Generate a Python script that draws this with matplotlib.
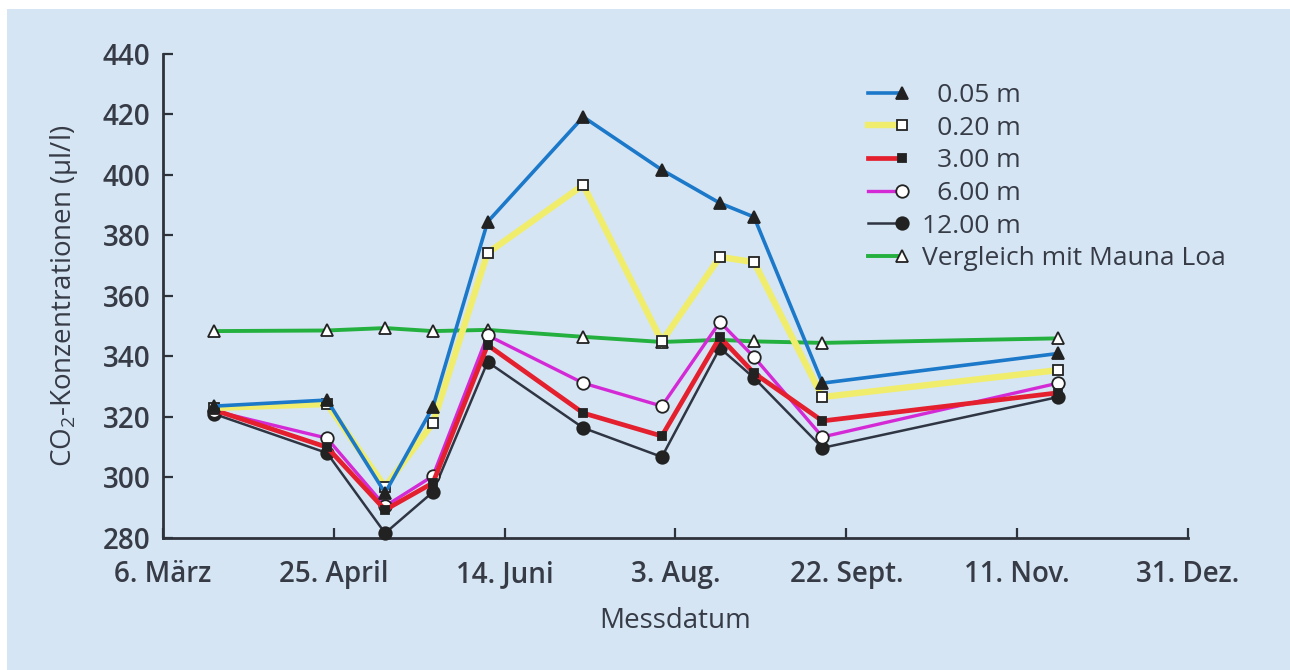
import numpy as np
import pandas as pd
import matplotlib
matplotlib.use("Agg")
import matplotlib.pyplot as plt
import matplotlib.dates as mdates
from matplotlib.patches import Rectangle
from matplotlib.legend_handler import HandlerLine2DCompound

# Measurement dates
dates = pd.to_datetime([
    "1990-03-21", "1990-04-23", "1990-05-10", "1990-05-24", "1990-06-09",
    "1990-07-07", "1990-07-30", "1990-08-16", "1990-08-26", "1990-09-15",
    "1990-11-23",
])

# CO2 concentrations (µl/l) per depth
co2_005 = [323.6, 325.6, 294.9, 323.3, 384.5, 419.2, 401.7, 390.7, 386.1, 331.2, 341.0]
co2_020 = [323.0, 324.3, 296.9, 318.0, 374.2, 396.7, 345.0, 372.9, 371.2, 326.6, 335.5]
co2_300 = [322.3, 310.0, 289.3, 298.2, 343.8, 321.3, 313.7, 346.4, 334.5, 318.7, 328.0]
co2_600 = [322.0, 313.0, 290.5, 300.5, 347.0, 331.2, 323.6, 351.4, 339.8, 313.4, 331.2]
co2_1200 = [321.0, 308.1, 281.6, 295.2, 338.2, 316.4, 306.8, 342.8, 332.9, 309.8, 326.6]
mauna_loa = [348.4, 348.6, 349.4, 348.4, 348.8, 346.5, 344.8, 345.5, 345.0, 344.5, 346.0]

series_labels = ["\u20070.05 m", "\u20070.20 m", "\u20073.00 m", "\u20076.00 m",
                 "12.00 m", "Vergleich mit Mauna Loa"]

tick_dates = pd.to_datetime(["1990-03-06", "1990-04-25", "1990-06-14", "1990-08-03",
                             "1990-09-22", "1990-11-11", "1990-12-31"])
tick_labels = ["6. März", "25. April", "14. Juni", "3. Aug.", "22. Sept.", "11. Nov.", "31. Dez."]
y_ticks = [280, 300, 320, 340, 360, 380, 400, 420, 440]

plt.rcParams["font.family"] = ["Open Sans", "DejaVu Sans"]
plt.rcParams["font.weight"] = 600
text_color = "#363b46"
bg_color = "#d5e5f4"

fig = plt.figure(figsize=(12.9, 6.7), dpi=100, facecolor="white")
fig.patches.append(Rectangle((7 / 1290, 0), 1 - 7 / 1290, 1 - 9 / 670,
                             transform=fig.transFigure, facecolor=bg_color,
                             edgecolor="none", zorder=-5))

ax = fig.add_axes([163 / 1290, 1 - 538 / 670, (1188 - 163) / 1290, (538 - 54) / 670])
ax.set_facecolor("none")

x = mdates.date2num(dates)

styles = [
    # data, color, linewidth, marker, markerface, markersize, zorder
    (mauna_loa, "#23b03e", 2.8, "^", "white", 8, 2),
    (co2_1200, "#2f3542", 1.8, "o", "#222222", 9, 3),
    (co2_600, "#d42ad6", 2.4, "o", "white", 9, 4),
    (co2_300, "#e4202e", 3.4, "s", "#222222", 6, 5),
    (co2_020, "#f1ed6c", 4.6, "s", "white", 7, 6),
    (co2_005, "#1c78c9", 2.6, "^", "#222222", 8, 7),
]
handles = {}
for data, color, lw, mk, mfc, ms, z in styles:
    line, = ax.plot(x, data, color=color, lw=lw, marker=mk, mfc=mfc,
                    mec="#222222", mew=1.3, ms=ms, zorder=z, solid_joinstyle="miter",
                    clip_on=False)
    handles[id(data)] = line

order = [co2_005, co2_020, co2_300, co2_600, co2_1200, mauna_loa]
leg_handles = [handles[id(d)] for d in order]


class EndMarkerHandler(HandlerLine2DCompound):
    def get_xdata(self, legend, xdescent, ydescent, width, height, fontsize):
        xdata = np.array([-xdescent, -xdescent + width])
        return xdata, np.array([-xdescent + width])


leg = fig.legend(leg_handles, series_labels, loc="upper left",
                 bbox_to_anchor=(868 / 1290, 1 - 83 / 670), frameon=False,
                 prop={"size": 19, "weight": 500}, borderpad=0, borderaxespad=0,
                 handlelength=1.3, handletextpad=0.75, labelspacing=0.29,
                 labelcolor=text_color,
                 handler_map={ln: EndMarkerHandler() for ln in leg_handles})

ax.set_xlim(mdates.date2num(tick_dates[0]), mdates.date2num(tick_dates[-1]))
ax.set_ylim(280, 440)
ax.set_xticks(mdates.date2num(tick_dates))
ax.set_xticklabels(tick_labels)
ax.set_yticks(y_ticks)

for side in ("top", "right"):
    ax.spines[side].set_visible(False)
for side in ("left", "bottom"):
    ax.spines[side].set_color("#2e323b")
    ax.spines[side].set_linewidth(2)

ax.tick_params(axis="both", direction="in", length=7, width=1.6, color="#2e323b",
               labelsize=20, labelcolor=text_color)
ax.tick_params(axis="x", pad=16)
ax.tick_params(axis="y", pad=9)

ax.set_xlabel("Messdatum", fontsize=20, color=text_color, labelpad=13)
ax.set_ylabel(r"CO$_\mathregular{2}$-Konzentrationen (µl/l)", fontsize=20,
              color=text_color, labelpad=16)

fig.savefig("out.png", dpi=100, facecolor="white")
